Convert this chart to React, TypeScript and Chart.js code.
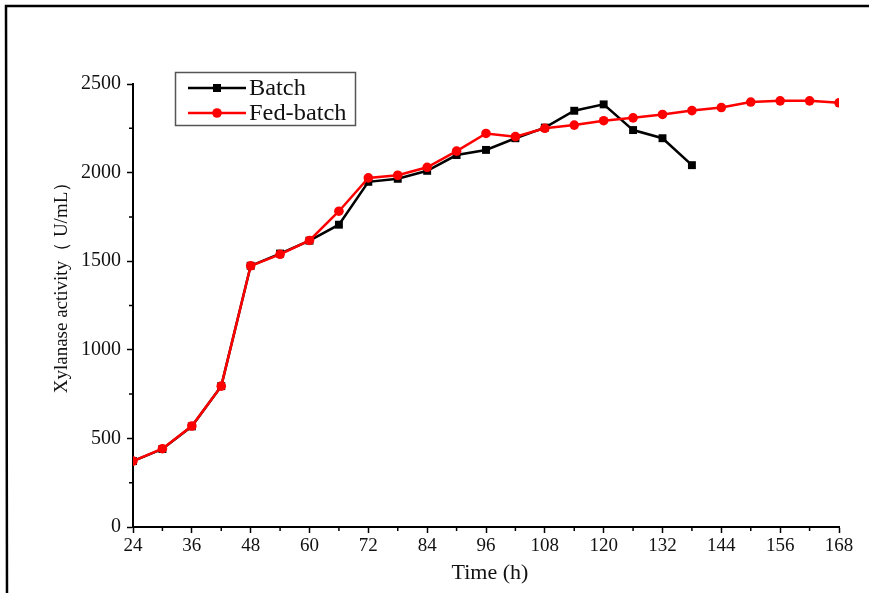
import React, { useEffect, useRef } from "react";
import { Chart, registerables } from "chart.js";

Chart.register(...registerables);

const batchHours = [24, 30, 36, 42, 48, 54, 60, 66, 72, 78, 84, 90, 96, 102, 108, 114, 120, 126, 132, 138];
const batchValues = [372, 440, 568, 795, 1474, 1543, 1616, 1706, 1948, 1965, 2010, 2099, 2128, 2194, 2254, 2349, 2385, 2240, 2194, 2042];

const fedHours = [24, 30, 36, 42, 48, 54, 60, 66, 72, 78, 84, 90, 96, 102, 108, 114, 120, 126, 132, 138, 144, 150, 156, 162, 168];
const fedValues = [372, 442, 570, 795, 1474, 1539, 1617, 1782, 1970, 1985, 2030, 2121, 2221, 2203, 2250, 2268, 2293, 2309, 2328, 2350, 2367, 2398, 2405, 2405, 2394];

const xTicks = [24, 36, 48, 60, 72, 84, 96, 108, 120, 132, 144, 156, 168];
const yTicks = [0, 500, 1000, 1500, 2000, 2500];

const legendLabels = ["Batch", "Fed-batch"];
const xTitle = "Time (h)";
const yTitle = "Xylanase activity（ U/mL）";

const SERIF = '"Liberation Serif", "Times New Roman", serif';
const RED = "#ff0000";

const decorPlugin = {
  id: "decor",
  beforeDraw(chart: any) {
    const ctx = chart.ctx;
    ctx.save();
    ctx.fillStyle = "#fff";
    ctx.fillRect(0, 0, chart.width, chart.height);
    ctx.strokeStyle = "#000";
    ctx.lineWidth = 2.5;
    ctx.beginPath();
    ctx.moveTo(869, 6);
    ctx.lineTo(6, 6);
    ctx.lineTo(7, 593);
    ctx.stroke();
    ctx.restore();
  },
  afterDraw(chart: any) {
    const ctx = chart.ctx;
    const xs = chart.scales.x;
    const ys = chart.scales.y;
    const area = chart.chartArea;
    ctx.save();
    // minor ticks
    ctx.strokeStyle = "#000";
    ctx.lineWidth = 1.5;
    ctx.beginPath();
    for (let v = 30; v < 168; v += 12) {
      const px = xs.getPixelForValue(v);
      ctx.moveTo(px, area.bottom);
      ctx.lineTo(px, area.bottom + 4);
    }
    for (let v = 250; v < 2500; v += 500) {
      const py = ys.getPixelForValue(v);
      ctx.moveTo(area.left, py);
      ctx.lineTo(area.left - 4, py);
    }
    ctx.stroke();

    // titles
    ctx.fillStyle = "#111";
    ctx.font = "22px " + SERIF;
    ctx.textAlign = "center";
    ctx.textBaseline = "middle";
    ctx.fillText(xTitle, (area.left + area.right) / 2 + 4, 573);
    ctx.save();
    ctx.translate(62, 283);
    ctx.rotate(-Math.PI / 2);
    ctx.font = "19px " + SERIF;
    ctx.fillText(yTitle, 0, 0);
    ctx.restore();

    // legend
    ctx.strokeStyle = "#555";
    ctx.lineWidth = 1.5;
    ctx.strokeRect(175.5, 72.5, 180, 53);
    const rows = [
      { y: 88, color: "#000", style: "rect" },
      { y: 113, color: RED, style: "circle" },
    ];
    rows.forEach((r, i) => {
      ctx.strokeStyle = r.color;
      ctx.fillStyle = r.color;
      ctx.lineWidth = 2.5;
      ctx.beginPath();
      ctx.moveTo(188, r.y);
      ctx.lineTo(246, r.y);
      ctx.stroke();
      if (r.style === "rect") {
        ctx.fillRect(213, r.y - 4, 8, 8);
      } else {
        ctx.beginPath();
        ctx.arc(217, r.y, 4.8, 0, Math.PI * 2);
        ctx.fill();
      }
      ctx.fillStyle = "#111";
      ctx.font = "23px " + SERIF;
      ctx.textAlign = "left";
      ctx.textBaseline = "middle";
      ctx.save();
      ctx.translate(249, r.y + 1);
      ctx.scale(1.06, 1);
      ctx.fillText(legendLabels[i], 0, 0);
      ctx.restore();
    });
    ctx.restore();
  },
};

export default function App() {
  const canvasRef = useRef<HTMLCanvasElement | null>(null);

  useEffect(() => {
    document.body.style.margin = "0";
    const canvas = canvasRef.current;
    if (!canvas) return;
    const chart = new Chart(canvas, {
      type: "line",
      data: {
        datasets: [
          {
            label: legendLabels[0],
            data: batchHours.map((h, i) => ({ x: h, y: batchValues[i] })),
            borderColor: "#000",
            backgroundColor: "#000",
            borderWidth: 2.5,
            pointStyle: "rect",
            pointRadius: 5.6,
            pointBorderWidth: 0,
            order: 1,
          },
          {
            label: legendLabels[1],
            data: fedHours.map((h, i) => ({ x: h, y: fedValues[i] })),
            borderColor: RED,
            backgroundColor: RED,
            borderWidth: 2.5,
            pointStyle: "circle",
            pointRadius: 4.8,
            pointBorderWidth: 0,
            order: 0,
          },
        ],
      },
      options: {
        animation: false,
        responsive: false,
        devicePixelRatio: 1,
        layout: { padding: { left: 0, top: 84, right: 30, bottom: 0 } },
        plugins: { legend: { display: false }, tooltip: { enabled: false } },
        scales: {
          x: {
            type: "linear",
            min: 24,
            max: 168,
            afterBuildTicks: (scale: any) => {
              scale.ticks = xTicks.map((v) => ({ value: v }));
            },
            afterFit: (scale: any) => {
              scale.height = 66;
            },
            ticks: {
              color: "#111",
              font: { family: SERIF, size: 19 },
              padding: 2,
              maxRotation: 0,
              autoSkip: false,
              callback: (v: any) => String(v),
            },
            grid: {
              drawOnChartArea: false,
              drawTicks: true,
              tickLength: 6,
              tickWidth: 1.5,
              tickColor: "#000",
            },
            border: { display: true, color: "#000", width: 2 },
          },
          y: {
            type: "linear",
            min: 0,
            max: 2500,
            afterBuildTicks: (scale: any) => {
              scale.ticks = yTicks.map((v) => ({ value: v }));
            },
            afterFit: (scale: any) => {
              scale.width = 133;
            },
            ticks: {
              color: "#111",
              font: { family: SERIF, size: 20 },
              padding: 6,
              callback: (v: any) => String(v),
            },
            grid: {
              drawOnChartArea: false,
              drawTicks: true,
              tickLength: 6,
              tickWidth: 1.5,
              tickColor: "#000",
            },
            border: { display: true, color: "#000", width: 2 },
          },
        },
      },
      plugins: [decorPlugin],
    } as any);
    return () => chart.destroy();
  }, []);

  return (
    <div style={{ width: 869, height: 593 }}>
      <canvas ref={canvasRef} width={869} height={593} style={{ display: "block" }} />
    </div>
  );
}
